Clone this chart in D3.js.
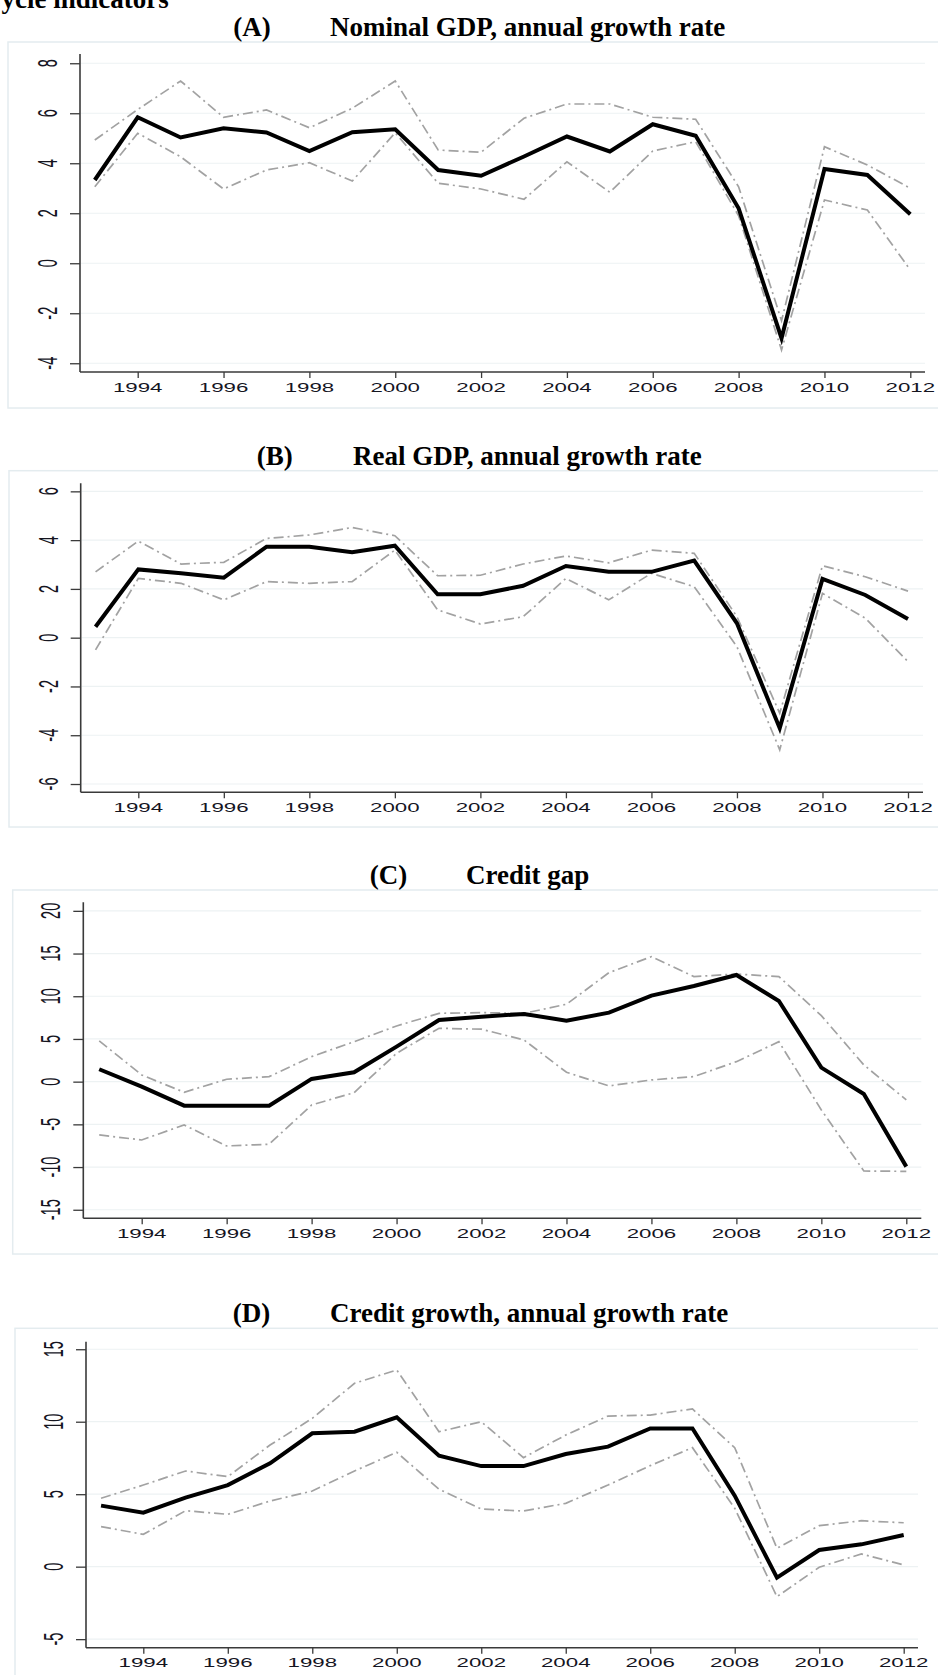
<!DOCTYPE html>
<html>
<head>
<meta charset="utf-8">
<script src="https://cdn.jsdelivr.net/npm/d3@7"></script>
<style>
  html, body { margin: 0; padding: 0; background: #ffffff; }
  svg { display: block; }
</style>
</head>
<body>
<svg id="chart" width="938" height="1675"></svg>
<script>
// ---- Data -------------------------------------------------------------
const years = [1993, 1994, 1995, 1996, 1997, 1998, 1999, 2000, 2001, 2002,
               2003, 2004, 2005, 2006, 2007, 2008, 2009, 2010, 2011, 2012];
const xTickYears = [1994, 1996, 1998, 2000, 2002, 2004, 2006, 2008, 2010, 2012];

// (A) Nominal GDP, annual growth rate
const nominalGdp      = [3.33, 5.84, 5.03, 5.40, 5.23, 4.49, 5.24, 5.36, 3.73, 3.50,
                         4.27, 5.07, 4.47, 5.56, 5.10, 2.20, -3.00, 3.77, 3.53, 1.96];
const nominalGdpUpper = [4.93, 6.15, 7.29, 5.84, 6.13, 5.42, 6.20, 7.29, 4.53, 4.44,
                         5.80, 6.37, 6.37, 5.84, 5.76, 3.06, -2.30, 4.66, 3.93, 3.00];
const nominalGdpLower = [3.06, 5.20, 4.26, 2.97, 3.73, 4.02, 3.29, 5.22, 3.20, 2.97,
                         2.56, 4.06, 2.84, 4.49, 4.86, 1.90, -3.47, 2.53, 2.13, -0.27];
const ticksA = [-4, -2, 0, 2, 4, 6, 8];

// (B) Real GDP, annual growth rate
const realGdp      = [0.45, 2.80, 2.64, 2.46, 3.73, 3.73, 3.50, 3.77, 1.78, 1.78,
                      2.13, 2.94, 2.70, 2.70, 3.16, 0.59, -3.71, 2.41, 1.75, 0.77];
const realGdpUpper = [2.70, 3.96, 3.02, 3.09, 4.07, 4.21, 4.52, 4.18, 2.54, 2.56,
                      3.02, 3.35, 3.07, 3.59, 3.46, 0.86, -3.10, 2.95, 2.50, 1.91];
const realGdpLower = [-0.50, 2.43, 2.23, 1.55, 2.30, 2.23, 2.30, 3.59, 1.14, 0.56,
                      0.86, 2.43, 1.55, 2.64, 2.09, -0.37, -4.60, 1.82, 0.80, -0.98];
const ticksB = [-6, -4, -2, 0, 2, 4, 6];

// (C) Credit gap
const creditGap      = [1.45, -0.58, -2.81, -2.81, -2.81, 0.32, 1.10, 4.10, 7.22, 7.61,
                        7.93, 7.14, 8.08, 10.07, 11.20, 12.49, 9.45, 1.64, -1.44, -9.95];
const creditGapUpper = [4.77, 0.78, -1.24, 0.28, 0.59, 2.93, 4.68, 6.52, 8.00, 8.08,
                        8.00, 9.06, 12.76, 14.64, 12.30, 12.60, 12.30, 7.73, 1.96, -2.14];
const creditGapLower = [-6.24, -6.83, -5.07, -7.53, -7.33, -2.73, -1.29, 3.32, 6.25, 6.14,
                        4.88, 1.10, -0.50, 0.20, 0.59, 2.34, 4.68, -3.31, -10.46, -10.50];
const ticksC = [-15, -10, -5, 0, 5, 10, 15, 20];

// (D) Credit growth, annual growth rate
const creditGrowth      = [4.21, 3.73, 4.76, 5.63, 7.13, 9.20, 9.31, 10.30, 7.66, 6.94,
                           6.94, 7.77, 8.28, 9.54, 9.54, 4.90, -0.76, 1.15, 1.54, 2.19];
const creditGrowthUpper = [4.72, 5.63, 6.60, 6.21, 8.39, 10.23, 12.65, 13.57, 9.31, 10.00,
                           7.52, 9.08, 10.39, 10.46, 10.88, 8.21, 1.27, 2.83, 3.17, 3.03];
const creditGrowthLower = [2.76, 2.23, 3.86, 3.61, 4.53, 5.22, 6.60, 7.89, 5.34, 3.98,
                           3.84, 4.37, 5.63, 6.97, 8.21, 4.03, -2.07, -0.04, 0.88, 0.12];
const ticksD = [-5, 0, 5, 10, 15];

// ---- Panel layout ------------------------------------------------------
const panels = [
  { tag: "(A)", title: "Nominal GDP, annual growth rate",
    tagX: 252, titleX: 330, titleY: 36,
    box: { x: 8, y: 42, bottom: 408 },
    plot: { left: 80, right: 925, top: 54, bottom: 372 },
    xFirst: 137.7, xLast: 910.3, domain: [-4.35, 8.37],
    ticks: ticksA, mid: nominalGdp, upper: nominalGdpUpper, lower: nominalGdpLower },
  { tag: "(B)", title: "Real GDP, annual growth rate",
    tagX: 274.7, titleX: 353, titleY: 465,
    box: { x: 9, y: 470.7, bottom: 827 },
    plot: { left: 80.7, right: 923, top: 483.3, bottom: 792.3 },
    xFirst: 138.3, xLast: 908, domain: [-6.34, 6.33],
    ticks: ticksB, mid: realGdp, upper: realGdpUpper, lower: realGdpLower },
  { tag: "(C)", title: "Credit gap",
    tagX: 388.5, titleX: 466, titleY: 884,
    box: { x: 12.7, y: 890, bottom: 1254 },
    plot: { left: 83.3, right: 921.3, top: 902.3, bottom: 1218.3 },
    xFirst: 141.7, xLast: 906.3, domain: [-16.0, 21.0],
    ticks: ticksC, mid: creditGap, upper: creditGapUpper, lower: creditGapLower },
  { tag: "(D)", title: "Credit growth, annual growth rate",
    tagX: 251.5, titleX: 330, titleY: 1322,
    box: { x: 15, y: 1328.3, bottom: 1700 },
    plot: { left: 86, right: 918, top: 1341.7, bottom: 1647.7 },
    xFirst: 143.3, xLast: 903.7, domain: [-5.59, 15.52],
    ticks: ticksD, mid: creditGrowth, upper: creditGrowthUpper, lower: creditGrowthLower }
];

const svg = d3.select("#chart");

// Heading, partly clipped at the top-left corner
svg.append("text")
  .attr("x", -18).attr("y", 8)
  .attr("font-family", "'Liberation Serif', 'Times New Roman', serif")
  .attr("font-weight", "bold")
  .attr("font-size", 27)
  .attr("fill", "#000")
  .text("Cycle indicators");

const serif = "'Liberation Serif', 'Times New Roman', serif";
const sans = "'Liberation Sans', Arial, Helvetica, sans-serif";

panels.forEach(p => {
  const g = svg.append("g");

  // Panel frame
  g.append("rect")
    .attr("x", p.box.x).attr("y", p.box.y)
    .attr("width", 960 - p.box.x).attr("height", p.box.bottom - p.box.y)
    .attr("fill", "#ffffff")
    .attr("stroke", "#e4ecef")
    .attr("stroke-width", 1.5);

  // Title
  g.append("text")
    .attr("x", p.tagX).attr("y", p.titleY)
    .attr("text-anchor", "middle")
    .attr("font-family", serif).attr("font-weight", "bold").attr("font-size", 27)
    .text(p.tag);
  g.append("text")
    .attr("x", p.titleX).attr("y", p.titleY)
    .attr("font-family", serif).attr("font-weight", "bold").attr("font-size", 27)
    .text(p.title);

  // Scales: 1993 sits one year left of the first labelled tick
  const step = (p.xLast - p.xFirst) / (2012 - 1994);
  const x = d3.scaleLinear()
    .domain([1994, 2012])
    .range([p.xFirst, p.xLast]);
  const y = d3.scaleLinear()
    .domain(p.domain)
    .range([p.plot.bottom, p.plot.top]);

  // Horizontal grid lines
  g.append("g")
    .selectAll("line")
    .data(p.ticks)
    .join("line")
    .attr("x1", p.plot.left + 1).attr("x2", p.plot.right)
    .attr("y1", d => y(d)).attr("y2", d => y(d))
    .attr("stroke", "#edf2f3")
    .attr("stroke-width", 1.2);

  // Y axis
  const yAxis = g.append("g")
    .attr("transform", `translate(${p.plot.left},0)`)
    .call(d3.axisLeft(y).tickValues(p.ticks).tickSize(10).tickFormat(""));
  yAxis.select(".domain")
    .attr("d", `M0,${p.plot.top}V${p.plot.bottom}`)
    .attr("stroke", "#3a3a3a").attr("stroke-width", 1.6);
  yAxis.selectAll(".tick line").attr("stroke", "#3a3a3a").attr("stroke-width", 1.3);

  // Y tick labels, rotated and stretched across the axis
  g.append("g")
    .selectAll("text")
    .data(p.ticks)
    .join("text")
    .attr("transform", d => `translate(${p.plot.left - 32.5},${y(d)}) rotate(-90) scale(1,1.85)`)
    .attr("text-anchor", "middle")
    .attr("dominant-baseline", "central")
    .attr("font-family", sans)
    .attr("font-size", 14.5)
    .attr("fill", "#15151f")
    .text(d => d);

  // X axis
  const xAxis = g.append("g")
    .attr("transform", `translate(0,${p.plot.bottom})`)
    .call(d3.axisBottom(x).tickValues(xTickYears).tickSize(6).tickFormat(""));
  xAxis.select(".domain")
    .attr("d", `M${p.plot.left},0H${p.plot.right}`)
    .attr("stroke", "#3a3a3a").attr("stroke-width", 1.6);
  xAxis.selectAll(".tick line").attr("stroke", "#3a3a3a").attr("stroke-width", 1.3);

  // X tick labels, stretched horizontally
  g.append("g")
    .selectAll("text")
    .data(xTickYears)
    .join("text")
    .attr("transform", d => `translate(${x(d)},${p.plot.bottom + 19.5}) scale(1.65,1)`)
    .attr("text-anchor", "middle")
    .attr("font-family", sans)
    .attr("font-size", 13.5)
    .attr("fill", "#15151f")
    .text(d => d);

  // Lines: upper and lower bands (grey dash-dot) and the central estimate
  const line = d3.line()
    .x((d, i) => x(years[i]))
    .y(d => y(d));

  [p.upper, p.lower].forEach(series => {
    g.append("path")
      .datum(series)
      .attr("d", line)
      .attr("fill", "none")
      .attr("stroke", "#a2a2a2")
      .attr("stroke-width", 1.7)
      .attr("stroke-dasharray", "10,4,2,4");
  });

  g.append("path")
    .datum(p.mid)
    .attr("d", line)
    .attr("fill", "none")
    .attr("stroke", "#000000")
    .attr("stroke-width", 4)
    .attr("stroke-linejoin", "miter");
});
</script>
</body>
</html>
